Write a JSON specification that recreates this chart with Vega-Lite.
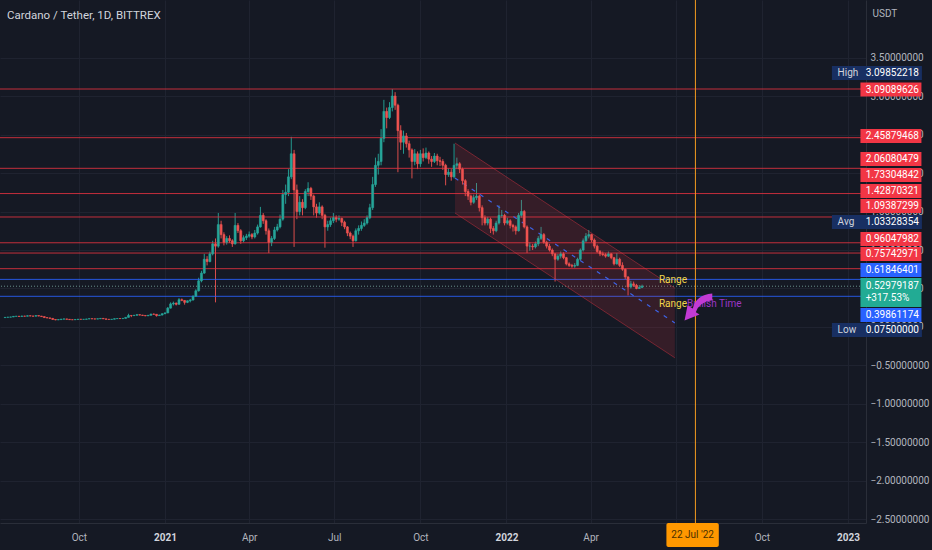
{
  "$schema": "https://vega.github.io/schema/vega-lite/v6.json",
  "width": 866,
  "height": 523,
  "autosize": "none",
  "padding": {"left": 0, "top": 0, "right": 66, "bottom": 27},
  "background": "#151924",
  "title": {
    "text": "Cardano / Tether, 1D, BITTREX",
    "anchor": "start",
    "frame": "group",
    "orient": "top",
    "offset": 0,
    "dy": 31,
    "baseline": "alphabetic",
    "dx": 7,
    "fontSize": 11.5,
    "fontWeight": "normal",
    "color": "#d1d4dc"
  },
  "config": {
    "view": {"stroke": null},
    "font": "Roboto"
  },
  "datasets": {
    "candles": [
      {"d":"2020-07-14","o":0.122,"h":0.128,"l":0.120,"c":0.125},
      {"d":"2020-07-17","o":0.125,"h":0.131,"l":0.123,"c":0.128},
      {"d":"2020-07-20","o":0.128,"h":0.133,"l":0.126,"c":0.130},
      {"d":"2020-07-23","o":0.130,"h":0.141,"l":0.129,"c":0.138},
      {"d":"2020-07-26","o":0.138,"h":0.144,"l":0.135,"c":0.140},
      {"d":"2020-07-29","o":0.140,"h":0.143,"l":0.133,"c":0.137},
      {"d":"2020-08-01","o":0.137,"h":0.147,"l":0.134,"c":0.142},
      {"d":"2020-08-04","o":0.142,"h":0.145,"l":0.136,"c":0.140},
      {"d":"2020-08-07","o":0.140,"h":0.150,"l":0.138,"c":0.146},
      {"d":"2020-08-10","o":0.146,"h":0.149,"l":0.139,"c":0.143},
      {"d":"2020-08-13","o":0.143,"h":0.145,"l":0.136,"c":0.140},
      {"d":"2020-08-16","o":0.140,"h":0.153,"l":0.139,"c":0.148},
      {"d":"2020-08-19","o":0.148,"h":0.150,"l":0.139,"c":0.142},
      {"d":"2020-08-22","o":0.142,"h":0.144,"l":0.131,"c":0.135},
      {"d":"2020-08-25","o":0.135,"h":0.137,"l":0.119,"c":0.122},
      {"d":"2020-08-28","o":0.122,"h":0.125,"l":0.114,"c":0.118},
      {"d":"2020-08-31","o":0.118,"h":0.121,"l":0.109,"c":0.112},
      {"d":"2020-09-03","o":0.112,"h":0.114,"l":0.094,"c":0.098},
      {"d":"2020-09-06","o":0.098,"h":0.100,"l":0.088,"c":0.092},
      {"d":"2020-09-09","o":0.092,"h":0.099,"l":0.090,"c":0.096},
      {"d":"2020-09-12","o":0.096,"h":0.105,"l":0.094,"c":0.102},
      {"d":"2020-09-15","o":0.102,"h":0.108,"l":0.100,"c":0.105},
      {"d":"2020-09-18","o":0.105,"h":0.106,"l":0.097,"c":0.100},
      {"d":"2020-09-21","o":0.100,"h":0.101,"l":0.091,"c":0.095},
      {"d":"2020-09-24","o":0.095,"h":0.097,"l":0.090,"c":0.094},
      {"d":"2020-09-27","o":0.094,"h":0.100,"l":0.092,"c":0.098},
      {"d":"2020-09-30","o":0.098,"h":0.103,"l":0.096,"c":0.101},
      {"d":"2020-10-03","o":0.101,"h":0.102,"l":0.097,"c":0.099},
      {"d":"2020-10-06","o":0.099,"h":0.102,"l":0.097,"c":0.100},
      {"d":"2020-10-09","o":0.100,"h":0.106,"l":0.099,"c":0.104},
      {"d":"2020-10-12","o":0.104,"h":0.110,"l":0.103,"c":0.108},
      {"d":"2020-10-15","o":0.108,"h":0.109,"l":0.104,"c":0.106},
      {"d":"2020-10-18","o":0.106,"h":0.107,"l":0.101,"c":0.103},
      {"d":"2020-10-21","o":0.103,"h":0.109,"l":0.102,"c":0.107},
      {"d":"2020-10-24","o":0.107,"h":0.114,"l":0.106,"c":0.112},
      {"d":"2020-10-27","o":0.112,"h":0.113,"l":0.104,"c":0.106},
      {"d":"2020-10-30","o":0.106,"h":0.107,"l":0.098,"c":0.100},
      {"d":"2020-11-02","o":0.100,"h":0.101,"l":0.096,"c":0.098},
      {"d":"2020-11-05","o":0.098,"h":0.103,"l":0.097,"c":0.101},
      {"d":"2020-11-08","o":0.101,"h":0.110,"l":0.100,"c":0.108},
      {"d":"2020-11-11","o":0.108,"h":0.112,"l":0.106,"c":0.110},
      {"d":"2020-11-14","o":0.110,"h":0.111,"l":0.106,"c":0.109},
      {"d":"2020-11-17","o":0.109,"h":0.115,"l":0.107,"c":0.112},
      {"d":"2020-11-20","o":0.112,"h":0.128,"l":0.111,"c":0.125},
      {"d":"2020-11-23","o":0.125,"h":0.172,"l":0.124,"c":0.150},
      {"d":"2020-11-26","o":0.150,"h":0.155,"l":0.128,"c":0.148},
      {"d":"2020-11-29","o":0.148,"h":0.157,"l":0.142,"c":0.152},
      {"d":"2020-12-02","o":0.152,"h":0.166,"l":0.150,"c":0.160},
      {"d":"2020-12-05","o":0.160,"h":0.162,"l":0.150,"c":0.155},
      {"d":"2020-12-08","o":0.155,"h":0.157,"l":0.146,"c":0.150},
      {"d":"2020-12-11","o":0.150,"h":0.152,"l":0.140,"c":0.145},
      {"d":"2020-12-14","o":0.145,"h":0.155,"l":0.143,"c":0.152},
      {"d":"2020-12-17","o":0.152,"h":0.172,"l":0.150,"c":0.168},
      {"d":"2020-12-20","o":0.168,"h":0.175,"l":0.160,"c":0.165},
      {"d":"2020-12-23","o":0.165,"h":0.167,"l":0.135,"c":0.148},
      {"d":"2020-12-26","o":0.148,"h":0.160,"l":0.145,"c":0.155},
      {"d":"2020-12-29","o":0.155,"h":0.178,"l":0.152,"c":0.172},
      {"d":"2021-01-01","o":0.172,"h":0.188,"l":0.168,"c":0.183},
      {"d":"2021-01-04","o":0.183,"h":0.260,"l":0.180,"c":0.245},
      {"d":"2021-01-07","o":0.245,"h":0.320,"l":0.240,"c":0.300},
      {"d":"2021-01-10","o":0.300,"h":0.330,"l":0.280,"c":0.310},
      {"d":"2021-01-13","o":0.310,"h":0.318,"l":0.280,"c":0.295},
      {"d":"2021-01-16","o":0.295,"h":0.375,"l":0.290,"c":0.355},
      {"d":"2021-01-19","o":0.355,"h":0.370,"l":0.335,"c":0.345},
      {"d":"2021-01-22","o":0.345,"h":0.350,"l":0.290,"c":0.320},
      {"d":"2021-01-25","o":0.320,"h":0.345,"l":0.310,"c":0.340},
      {"d":"2021-01-28","o":0.340,"h":0.365,"l":0.320,"c":0.350},
      {"d":"2021-01-31","o":0.350,"h":0.410,"l":0.345,"c":0.400},
      {"d":"2021-02-03","o":0.400,"h":0.490,"l":0.390,"c":0.470},
      {"d":"2021-02-06","o":0.470,"h":0.640,"l":0.460,"c":0.600},
      {"d":"2021-02-09","o":0.600,"h":0.730,"l":0.580,"c":0.700},
      {"d":"2021-02-12","o":0.700,"h":0.950,"l":0.690,"c":0.880},
      {"d":"2021-02-15","o":0.880,"h":0.920,"l":0.800,"c":0.850},
      {"d":"2021-02-18","o":0.850,"h":0.980,"l":0.840,"c":0.950},
      {"d":"2021-02-21","o":0.950,"h":1.120,"l":0.930,"c":1.080},
      {"d":"2021-02-24","o":1.080,"h":1.150,"l":0.320,"c":1.050},
      {"d":"2021-02-27","o":1.050,"h":1.480,"l":1.030,"c":1.330},
      {"d":"2021-03-02","o":1.330,"h":1.380,"l":1.150,"c":1.200},
      {"d":"2021-03-05","o":1.200,"h":1.230,"l":1.060,"c":1.100},
      {"d":"2021-03-08","o":1.100,"h":1.180,"l":1.070,"c":1.150},
      {"d":"2021-03-11","o":1.150,"h":1.190,"l":1.090,"c":1.120},
      {"d":"2021-03-14","o":1.120,"h":1.140,"l":1.040,"c":1.080},
      {"d":"2021-03-17","o":1.080,"h":1.480,"l":1.070,"c":1.320},
      {"d":"2021-03-20","o":1.320,"h":1.350,"l":1.220,"c":1.250},
      {"d":"2021-03-23","o":1.250,"h":1.270,"l":1.080,"c":1.120},
      {"d":"2021-03-26","o":1.120,"h":1.190,"l":1.100,"c":1.160},
      {"d":"2021-03-29","o":1.160,"h":1.210,"l":1.130,"c":1.180},
      {"d":"2021-04-01","o":1.180,"h":1.240,"l":1.160,"c":1.200},
      {"d":"2021-04-04","o":1.200,"h":1.220,"l":1.140,"c":1.170},
      {"d":"2021-04-07","o":1.170,"h":1.260,"l":1.150,"c":1.220},
      {"d":"2021-04-10","o":1.220,"h":1.330,"l":1.200,"c":1.300},
      {"d":"2021-04-13","o":1.300,"h":1.560,"l":1.290,"c":1.450},
      {"d":"2021-04-16","o":1.450,"h":1.480,"l":1.340,"c":1.380},
      {"d":"2021-04-19","o":1.380,"h":1.400,"l":1.200,"c":1.250},
      {"d":"2021-04-22","o":1.250,"h":1.280,"l":0.960,"c":1.100},
      {"d":"2021-04-25","o":1.100,"h":1.180,"l":1.050,"c":1.150},
      {"d":"2021-04-28","o":1.150,"h":1.300,"l":1.130,"c":1.260},
      {"d":"2021-05-01","o":1.260,"h":1.340,"l":1.240,"c":1.300},
      {"d":"2021-05-04","o":1.300,"h":1.460,"l":1.280,"c":1.400},
      {"d":"2021-05-07","o":1.400,"h":1.780,"l":1.380,"c":1.720},
      {"d":"2021-05-10","o":1.720,"h":1.850,"l":1.600,"c":1.750},
      {"d":"2021-05-13","o":1.750,"h":2.050,"l":1.700,"c":1.950},
      {"d":"2021-05-16","o":1.950,"h":2.470,"l":1.920,"c":2.250},
      {"d":"2021-05-19","o":2.250,"h":2.300,"l":1.040,"c":1.780},
      {"d":"2021-05-22","o":1.780,"h":1.850,"l":1.400,"c":1.500},
      {"d":"2021-05-25","o":1.500,"h":1.700,"l":1.450,"c":1.620},
      {"d":"2021-05-28","o":1.620,"h":1.660,"l":1.450,"c":1.550},
      {"d":"2021-05-31","o":1.550,"h":1.790,"l":1.530,"c":1.760},
      {"d":"2021-06-03","o":1.760,"h":1.880,"l":1.700,"c":1.800},
      {"d":"2021-06-06","o":1.800,"h":1.820,"l":1.650,"c":1.700},
      {"d":"2021-06-09","o":1.700,"h":1.720,"l":1.450,"c":1.560},
      {"d":"2021-06-12","o":1.560,"h":1.600,"l":1.420,"c":1.480},
      {"d":"2021-06-15","o":1.480,"h":1.620,"l":1.460,"c":1.560},
      {"d":"2021-06-18","o":1.560,"h":1.580,"l":1.400,"c":1.450},
      {"d":"2021-06-21","o":1.450,"h":1.470,"l":1.030,"c":1.300},
      {"d":"2021-06-24","o":1.300,"h":1.380,"l":1.250,"c":1.330},
      {"d":"2021-06-27","o":1.330,"h":1.420,"l":1.300,"c":1.380},
      {"d":"2021-06-30","o":1.380,"h":1.480,"l":1.350,"c":1.420},
      {"d":"2021-07-03","o":1.420,"h":1.450,"l":1.360,"c":1.400},
      {"d":"2021-07-06","o":1.400,"h":1.450,"l":1.380,"c":1.410},
      {"d":"2021-07-09","o":1.410,"h":1.420,"l":1.310,"c":1.360},
      {"d":"2021-07-12","o":1.360,"h":1.380,"l":1.270,"c":1.300},
      {"d":"2021-07-15","o":1.300,"h":1.310,"l":1.180,"c":1.220},
      {"d":"2021-07-18","o":1.220,"h":1.240,"l":1.140,"c":1.180},
      {"d":"2021-07-21","o":1.180,"h":1.200,"l":1.040,"c":1.120},
      {"d":"2021-07-24","o":1.120,"h":1.280,"l":1.110,"c":1.250},
      {"d":"2021-07-27","o":1.250,"h":1.320,"l":1.200,"c":1.280},
      {"d":"2021-07-30","o":1.280,"h":1.370,"l":1.250,"c":1.320},
      {"d":"2021-08-02","o":1.320,"h":1.400,"l":1.300,"c":1.350},
      {"d":"2021-08-05","o":1.350,"h":1.450,"l":1.330,"c":1.420},
      {"d":"2021-08-08","o":1.420,"h":1.600,"l":1.400,"c":1.550},
      {"d":"2021-08-11","o":1.550,"h":1.950,"l":1.520,"c":1.850},
      {"d":"2021-08-14","o":1.850,"h":2.200,"l":1.820,"c":2.100},
      {"d":"2021-08-17","o":2.100,"h":2.250,"l":1.980,"c":2.150},
      {"d":"2021-08-20","o":2.150,"h":2.570,"l":2.100,"c":2.450},
      {"d":"2021-08-23","o":2.450,"h":2.950,"l":2.400,"c":2.800},
      {"d":"2021-08-26","o":2.800,"h":2.850,"l":2.580,"c":2.720},
      {"d":"2021-08-29","o":2.720,"h":2.920,"l":2.700,"c":2.850},
      {"d":"2021-09-01","o":2.850,"h":3.090,"l":2.800,"c":3.000},
      {"d":"2021-09-04","o":3.000,"h":3.050,"l":2.820,"c":2.880},
      {"d":"2021-09-07","o":2.880,"h":2.900,"l":2.010,"c":2.550},
      {"d":"2021-09-10","o":2.550,"h":2.620,"l":2.300,"c":2.400},
      {"d":"2021-09-13","o":2.400,"h":2.550,"l":2.250,"c":2.480},
      {"d":"2021-09-16","o":2.480,"h":2.520,"l":2.330,"c":2.380},
      {"d":"2021-09-19","o":2.380,"h":2.420,"l":2.200,"c":2.300},
      {"d":"2021-09-22","o":2.300,"h":2.320,"l":1.930,"c":2.150},
      {"d":"2021-09-25","o":2.150,"h":2.310,"l":2.100,"c":2.250},
      {"d":"2021-09-28","o":2.250,"h":2.280,"l":2.050,"c":2.120},
      {"d":"2021-10-01","o":2.120,"h":2.300,"l":2.080,"c":2.250},
      {"d":"2021-10-04","o":2.250,"h":2.320,"l":2.150,"c":2.200},
      {"d":"2021-10-07","o":2.200,"h":2.330,"l":2.180,"c":2.260},
      {"d":"2021-10-10","o":2.260,"h":2.280,"l":2.120,"c":2.180},
      {"d":"2021-10-13","o":2.180,"h":2.220,"l":2.080,"c":2.150},
      {"d":"2021-10-16","o":2.150,"h":2.260,"l":2.130,"c":2.220},
      {"d":"2021-10-19","o":2.220,"h":2.250,"l":2.100,"c":2.160},
      {"d":"2021-10-22","o":2.160,"h":2.210,"l":2.090,"c":2.150},
      {"d":"2021-10-25","o":2.150,"h":2.180,"l":2.040,"c":2.100},
      {"d":"2021-10-28","o":2.100,"h":2.120,"l":1.840,"c":1.980},
      {"d":"2021-10-31","o":1.980,"h":2.060,"l":1.950,"c":2.010},
      {"d":"2021-11-03","o":2.010,"h":2.050,"l":1.900,"c":1.950},
      {"d":"2021-11-06","o":1.950,"h":2.380,"l":1.930,"c":2.100},
      {"d":"2021-11-09","o":2.100,"h":2.200,"l":2.050,"c":2.120},
      {"d":"2021-11-12","o":2.120,"h":2.140,"l":2.000,"c":2.050},
      {"d":"2021-11-15","o":2.050,"h":2.070,"l":1.850,"c":1.900},
      {"d":"2021-11-18","o":1.900,"h":1.920,"l":1.700,"c":1.760},
      {"d":"2021-11-21","o":1.760,"h":1.790,"l":1.650,"c":1.700},
      {"d":"2021-11-24","o":1.700,"h":1.720,"l":1.580,"c":1.620},
      {"d":"2021-11-27","o":1.620,"h":1.720,"l":1.600,"c":1.680},
      {"d":"2021-11-30","o":1.680,"h":1.870,"l":1.650,"c":1.700},
      {"d":"2021-12-03","o":1.700,"h":1.720,"l":1.500,"c":1.550},
      {"d":"2021-12-06","o":1.550,"h":1.580,"l":1.320,"c":1.420},
      {"d":"2021-12-09","o":1.420,"h":1.450,"l":1.320,"c":1.350},
      {"d":"2021-12-12","o":1.350,"h":1.430,"l":1.320,"c":1.400},
      {"d":"2021-12-15","o":1.400,"h":1.420,"l":1.220,"c":1.280},
      {"d":"2021-12-18","o":1.280,"h":1.310,"l":1.200,"c":1.250},
      {"d":"2021-12-21","o":1.250,"h":1.380,"l":1.230,"c":1.350},
      {"d":"2021-12-24","o":1.350,"h":1.580,"l":1.330,"c":1.450},
      {"d":"2021-12-27","o":1.450,"h":1.520,"l":1.420,"c":1.450},
      {"d":"2021-12-30","o":1.450,"h":1.470,"l":1.320,"c":1.350},
      {"d":"2022-01-02","o":1.350,"h":1.420,"l":1.330,"c":1.380},
      {"d":"2022-01-05","o":1.380,"h":1.400,"l":1.280,"c":1.320},
      {"d":"2022-01-08","o":1.320,"h":1.340,"l":1.240,"c":1.300},
      {"d":"2022-01-11","o":1.300,"h":1.320,"l":1.200,"c":1.250},
      {"d":"2022-01-14","o":1.250,"h":1.480,"l":1.240,"c":1.450},
      {"d":"2022-01-17","o":1.450,"h":1.650,"l":1.420,"c":1.500},
      {"d":"2022-01-20","o":1.500,"h":1.520,"l":1.280,"c":1.300},
      {"d":"2022-01-23","o":1.300,"h":1.320,"l":0.960,"c":1.050},
      {"d":"2022-01-26","o":1.050,"h":1.100,"l":0.990,"c":1.050},
      {"d":"2022-01-29","o":1.050,"h":1.080,"l":1.000,"c":1.040},
      {"d":"2022-02-01","o":1.040,"h":1.110,"l":1.020,"c":1.080},
      {"d":"2022-02-04","o":1.080,"h":1.180,"l":1.050,"c":1.150},
      {"d":"2022-02-07","o":1.150,"h":1.300,"l":1.130,"c":1.200},
      {"d":"2022-02-10","o":1.200,"h":1.220,"l":1.080,"c":1.100},
      {"d":"2022-02-13","o":1.100,"h":1.120,"l":1.020,"c":1.050},
      {"d":"2022-02-16","o":1.050,"h":1.080,"l":0.980,"c":1.000},
      {"d":"2022-02-19","o":1.000,"h":1.020,"l":0.920,"c":0.950},
      {"d":"2022-02-22","o":0.950,"h":0.960,"l":0.590,"c":0.880},
      {"d":"2022-02-25","o":0.880,"h":0.950,"l":0.860,"c":0.920},
      {"d":"2022-02-28","o":0.920,"h":0.980,"l":0.890,"c":0.950},
      {"d":"2022-03-03","o":0.950,"h":0.970,"l":0.880,"c":0.900},
      {"d":"2022-03-06","o":0.900,"h":0.910,"l":0.800,"c":0.820},
      {"d":"2022-03-09","o":0.820,"h":0.840,"l":0.780,"c":0.800},
      {"d":"2022-03-12","o":0.800,"h":0.820,"l":0.770,"c":0.790},
      {"d":"2022-03-15","o":0.790,"h":0.830,"l":0.770,"c":0.800},
      {"d":"2022-03-18","o":0.800,"h":0.900,"l":0.790,"c":0.880},
      {"d":"2022-03-21","o":0.880,"h":1.020,"l":0.860,"c":1.000},
      {"d":"2022-03-24","o":1.000,"h":1.150,"l":0.980,"c":1.120},
      {"d":"2022-03-27","o":1.120,"h":1.220,"l":1.100,"c":1.180},
      {"d":"2022-03-30","o":1.180,"h":1.260,"l":1.150,"c":1.200},
      {"d":"2022-04-02","o":1.200,"h":1.210,"l":1.100,"c":1.130},
      {"d":"2022-04-05","o":1.130,"h":1.150,"l":1.020,"c":1.050},
      {"d":"2022-04-08","o":1.050,"h":1.070,"l":0.960,"c":0.980},
      {"d":"2022-04-11","o":0.980,"h":1.000,"l":0.920,"c":0.950},
      {"d":"2022-04-14","o":0.950,"h":0.980,"l":0.920,"c":0.940},
      {"d":"2022-04-17","o":0.940,"h":0.960,"l":0.900,"c":0.920},
      {"d":"2022-04-20","o":0.920,"h":0.980,"l":0.910,"c":0.950},
      {"d":"2022-04-23","o":0.950,"h":0.960,"l":0.880,"c":0.900},
      {"d":"2022-04-26","o":0.900,"h":0.910,"l":0.800,"c":0.820},
      {"d":"2022-04-29","o":0.820,"h":0.960,"l":0.810,"c":0.880},
      {"d":"2022-05-02","o":0.880,"h":0.900,"l":0.780,"c":0.800},
      {"d":"2022-05-05","o":0.800,"h":0.840,"l":0.730,"c":0.750},
      {"d":"2022-05-08","o":0.750,"h":0.760,"l":0.620,"c":0.650},
      {"d":"2022-05-11","o":0.650,"h":0.660,"l":0.410,"c":0.520},
      {"d":"2022-05-14","o":0.520,"h":0.600,"l":0.500,"c":0.560},
      {"d":"2022-05-17","o":0.560,"h":0.590,"l":0.520,"c":0.540},
      {"d":"2022-05-20","o":0.540,"h":0.560,"l":0.490,"c":0.500},
      {"d":"2022-05-23","o":0.500,"h":0.545,"l":0.495,"c":0.515},
      {"d":"2022-05-26","o":0.515,"h":0.550,"l":0.505,"c":0.530}
    ],
    "levels": [
      {"v":3.09089626,"k":"r"},
      {"v":2.45879468,"k":"r"},
      {"v":2.06080479,"k":"r"},
      {"v":1.73304842,"k":"r"},
      {"v":1.42870321,"k":"r"},
      {"v":1.09387299,"k":"r"},
      {"v":0.96047982,"k":"r"},
      {"v":0.75742971,"k":"r"},
      {"v":0.61846401,"k":"b"},
      {"v":0.39861174,"k":"b"},
      {"v":0.52979187,"k":"now"}
    ],
    "channel": [
      {"d":"2021-11-07","up":2.39,"lo":1.48,"mid":1.935},
      {"d":"2022-06-30","up":0.506,"lo":-0.40,"mid":0.053}
    ],
    "notes": [
      {"d":"2022-06-13","p":0.61,"t":"Range","k":"y"},
      {"d":"2022-06-13","p":0.30,"t":"Range","k":"y"},
      {"d":"2022-07-13","p":0.30,"t":"Bullish Time","k":"p"}
    ],
    "tags": [
      {"t":"3.09852218","tag":3.299,"k":"navy","n":"High"},
      {"t":"3.09089626","tag":3.084,"k":"red"},
      {"t":"2.45879468","tag":2.481,"k":"red"},
      {"t":"2.06080479","tag":2.182,"k":"red"},
      {"t":"1.73304842","tag":1.974,"k":"red"},
      {"t":"1.42870321","tag":1.766,"k":"red"},
      {"t":"1.09387299","tag":1.571,"k":"red"},
      {"t":"1.03328354","tag":1.364,"k":"navy","n":"Avg"},
      {"t":"0.96047982","tag":1.143,"k":"red"},
      {"t":"0.75742971","tag":0.948,"k":"red"},
      {"t":"0.61846401","tag":0.740,"k":"blue"},
      {"t":"0.52979187","tag":0.532,"k":"green"},
      {"t":"+317.53%","tag":0.377,"k":"green2"},
      {"t":"0.39861174","tag":0.156,"k":"blue"},
      {"t":"0.07500000","tag":-0.039,"k":"navy","n":"Low"}
    ]
  },
  "layer": [
    {
      "data": {"name": "candles"},
      "mark": {"type": "rule", "strokeWidth": 1, "opacity": 0.9},
      "encoding": {
        "x": {
          "field": "d", "type": "temporal",
          "scale": {"type": "utc", "domain": [{"year":2020,"month":7,"date":14,"utc":true},{"year":2023,"month":1,"date":15,"utc":true}]},
          "axis": {
            "orient": "bottom",
            "title": null,
            "tickCount": {"interval": "month", "step": 3},
            "labelExpr": "utcmonth(datum.value) == 0 ? utcFormat(datum.value, '%Y') : utcFormat(datum.value, '%b')",
            "labelColor": {"condition": {"test": "utcmonth(datum.value) == 0", "value": "#d1d4dc"}, "value": "#b2b5be"},
            "labelFontWeight": {"condition": {"test": "utcmonth(datum.value) == 0", "value": "bold"}, "value": "normal"},
            "labelFontSize": 10,
            "labelPadding": 9,
            "labelOverlap": false,
            "labelFlush": false,
            "ticks": false,
            "domainColor": "#2a2e39",
            "gridColor": "#1f2330"
          }
        },
        "y": {
          "field": "l", "type": "quantitative",
          "scale": {"domain": [-2.5455, 4.2468], "nice": false, "zero": false},
          "axis": {
            "orient": "right",
            "values": [-2.5,-2,-1.5,-1,-0.5,0,0.5,1,1.5,2,2.5,3,3.5],
            "format": ".8f",
            "labelColor": "#b2b5be",
            "labelFontSize": 10,
            "labelPadding": 4,
            "labelBaseline": "middle",
            "ticks": false,
            "domainColor": "#2a2e39",
            "gridColor": "#1f2330",
            "title": "USDT",
            "titleAngle": 0,
            "titleX": 6,
            "titleY": 13,
            "titleAlign": "left",
            "titleBaseline": "middle",
            "titleColor": "#b2b5be",
            "titleFontSize": 10,
            "titleFontWeight": "normal"
          }
        },
        "y2": {"field": "h"},
        "color": {"condition": {"test": "datum.c >= datum.o", "value": "#26a69a"}, "value": "#ef5350"}
      }
    },
    {
      "data": {"name": "levels"},
      "transform": [{"filter": "datum.k != 'now'"}],
      "mark": {"type": "rule", "strokeWidth": 1, "opacity": 0.85},
      "encoding": {
        "y": {"field": "v", "type": "quantitative"},
        "color": {"condition": {"test": "datum.k == 'b'", "value": "#2962ff"}, "value": "#e0323f"}
      }
    },
    {
      "data": {"name": "levels"},
      "transform": [{"filter": "datum.k == 'now'"}],
      "mark": {"type": "rule", "strokeWidth": 1, "strokeDash": [1, 2], "color": "#6a8f8c"},
      "encoding": {
        "y": {"field": "v", "type": "quantitative"}
      }
    },
    {
      "data": {"name": "channel"},
      "mark": {"type": "area", "color": "#f23645", "opacity": 0.15},
      "encoding": {
        "x": {"field": "d", "type": "temporal", "scale": {"type": "utc"}},
        "y": {"field": "up", "type": "quantitative"},
        "y2": {"field": "lo"}
      }
    },
    {
      "data": {"name": "channel"},
      "mark": {"type": "line", "color": "#f23645", "opacity": 0.4, "strokeWidth": 1},
      "encoding": {
        "x": {"field": "d", "type": "temporal", "scale": {"type": "utc"}},
        "y": {"field": "up", "type": "quantitative"}
      }
    },
    {
      "data": {"name": "channel"},
      "mark": {"type": "line", "color": "#f23645", "opacity": 0.4, "strokeWidth": 1},
      "encoding": {
        "x": {"field": "d", "type": "temporal", "scale": {"type": "utc"}},
        "y": {"field": "lo", "type": "quantitative"}
      }
    },
    {
      "data": {"name": "channel"},
      "mark": {"type": "line", "color": "#3d63e6", "strokeWidth": 1.2, "strokeDash": [4, 6]},
      "encoding": {
        "x": {"field": "d", "type": "temporal", "scale": {"type": "utc"}},
        "y": {"field": "mid", "type": "quantitative"}
      }
    },
    {
      "data": {"name": "candles"},
      "mark": {"type": "bar", "size": 2, "strokeWidth": 0.6},
      "encoding": {
        "x": {"field": "d", "type": "temporal", "scale": {"type": "utc"}},
        "y": {"field": "o", "type": "quantitative"},
        "y2": {"field": "c"},
        "color": {"condition": {"test": "datum.c >= datum.o", "value": "#26a69a"}, "value": "#ef5350"},
        "stroke": {"condition": {"test": "datum.c >= datum.o", "value": "#26a69a"}, "value": "#ef5350"}
      }
    },
    {
      "data": {"values": [{}]},
      "mark": {"type": "rule", "stroke": "#f59b1f", "strokeWidth": 1, "opacity": 1},
      "encoding": {
        "x": {"datum": {"year":2022,"month":7,"date":22,"utc":true}, "type": "temporal", "scale": {"type": "utc"}}
      }
    },
    {
      "data": {"name": "notes"},
      "mark": {"type": "text", "align": "left", "baseline": "middle", "fontSize": 10},
      "encoding": {
        "x": {"field": "d", "type": "temporal", "scale": {"type": "utc"}},
        "y": {"field": "p", "type": "quantitative"},
        "text": {"field": "t"},
        "color": {"condition": {"test": "datum.k == 'y'", "value": "#f2d64b"}, "value": "#9b36c6"},
        "fontWeight": {"condition": {"test": "datum.k == 'y'", "value": "bold"}, "value": "normal"}
      }
    },
    {
      "data": {"values": [{}]},
      "mark": {"type": "point", "filled": true, "opacity": 1, "strokeWidth": 0, "size": 900, "color": "#c23ad4",
               "shape": "M1,-0.85 Q-0.1,-0.75 -0.3,0.15 L-0.65,-0.05 L-0.85,0.95 L0.15,0.55 L-0.1,0.4 Q0.15,-0.3 1,-0.4 Z"},
      "encoding": {
        "x": {"datum": {"year":2022,"month":7,"date":24,"utc":true}, "type": "temporal", "scale": {"type": "utc"}},
        "y": {"datum": 0.27, "type": "quantitative"}
      }
    },
    {
      "data": {"name": "tags"},
      "transform": [{"filter": "datum.k == 'red' || datum.k == 'blue'"}],
      "mark": {"type": "point", "filled": true, "opacity": 1, "strokeWidth": 0, "size": 3721, "shape": "M-1,-0.23L1,-0.23L1,0.23L-1,0.23Z"},
      "encoding": {
        "x": {"datum": {"year":2023,"month":2,"date":16,"utc":true}, "type": "temporal", "scale": {"type": "utc"}},
        "y": {"field": "tag", "type": "quantitative"},
        "color": {"field": "k", "type": "nominal", "scale": {"domain": ["red", "blue"], "range": ["#f23645", "#2962ff"]}, "legend": null}
      }
    },
    {
      "data": {"name": "tags"},
      "transform": [{"filter": "datum.k == 'navy'"}],
      "mark": {"type": "point", "filled": true, "opacity": 1, "strokeWidth": 0, "size": 8100, "shape": "M-1,-0.156L1,-0.156L1,0.156L-1,0.156Z", "color": "#182f62"},
      "encoding": {
        "x": {"datum": {"year":2023,"month":2,"date":1,"utc":true}, "type": "temporal", "scale": {"type": "utc"}},
        "y": {"field": "tag", "type": "quantitative"}
      }
    },
    {
      "data": {"values": [{}]},
      "mark": {"type": "point", "filled": true, "opacity": 1, "strokeWidth": 0, "size": 3721, "shape": "M-1,-0.475L1,-0.475L1,0.475L-1,0.475Z", "color": "#22ab94"},
      "encoding": {
        "x": {"datum": {"year":2023,"month":2,"date":16,"utc":true}, "type": "temporal", "scale": {"type": "utc"}},
        "y": {"datum": 0.448, "type": "quantitative"}
      }
    },
    {
      "data": {"name": "tags"},
      "mark": {"type": "text", "align": "left", "baseline": "middle", "fontSize": 10, "color": "#ffffff"},
      "encoding": {
        "x": {"datum": {"year":2023,"month":1,"date":20,"utc":true}, "type": "temporal", "scale": {"type": "utc"}},
        "y": {"field": "tag", "type": "quantitative"},
        "text": {"field": "t"}
      }
    },
    {
      "data": {"name": "tags"},
      "transform": [{"filter": "datum.k == 'navy'"}],
      "mark": {"type": "text", "align": "left", "baseline": "middle", "fontSize": 10, "color": "#d1d4dc"},
      "encoding": {
        "x": {"datum": {"year":2022,"month":12,"date":21,"utc":true}, "type": "temporal", "scale": {"type": "utc"}},
        "y": {"field": "tag", "type": "quantitative"},
        "text": {"field": "n"}
      }
    },
    {
      "data": {"values": [{}]},
      "mark": {"type": "rect", "color": "#ff9800", "cornerRadius": 2},
      "encoding": {
        "x": {"datum": {"year":2022,"month":6,"date":21,"utc":true}, "type": "temporal", "scale": {"type": "utc"}},
        "x2": {"datum": {"year":2022,"month":8,"date":16,"utc":true}},
        "y": {"datum": -2.5455, "type": "quantitative"},
        "y2": {"datum": -2.857}
      }
    },
    {
      "data": {"values": [{}]},
      "mark": {"type": "text", "text": "22 Jul '22", "fontSize": 10, "color": "#4a2f00", "align": "center", "baseline": "middle"},
      "encoding": {
        "x": {"datum": {"year":2022,"month":7,"date":19,"utc":true}, "type": "temporal", "scale": {"type": "utc"}},
        "y": {"datum": -2.701, "type": "quantitative"}
      }
    }
  ]
}
